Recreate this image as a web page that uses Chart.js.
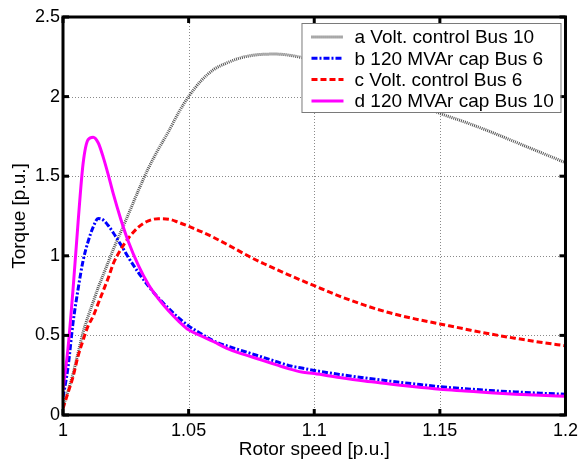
<!DOCTYPE html>
<html>
<head>
<meta charset="utf-8">
<script src="https://cdn.jsdelivr.net/npm/chart.js@4.4.0/dist/chart.umd.min.js"></script>
<style>
  html, body { margin: 0; padding: 0; background: #fff; }
  #wrap { width: 583px; height: 461px; }
</style>
</head>
<body>
<div id="wrap"><canvas id="torqueChart"></canvas></div>
<script>
// rotor speed [p.u.]
const speed = [1.000, 1.002, 1.004, 1.006, 1.008, 1.010, 1.012, 1.014, 1.016, 1.018,
               1.020, 1.023, 1.026, 1.030, 1.034, 1.038, 1.042, 1.046, 1.050, 1.055,
               1.060, 1.065, 1.070, 1.075, 1.080, 1.085, 1.090, 1.095, 1.100, 1.110,
               1.120, 1.130, 1.140, 1.150, 1.160, 1.170, 1.180, 1.190, 1.200];

// torque [p.u.]
const voltCtrlBus10 = [0.05, 0.15, 0.26, 0.39, 0.52, 0.62, 0.71, 0.80, 0.88, 0.96,
                       1.04, 1.15, 1.26, 1.41, 1.55, 1.67, 1.78, 1.90, 2.00, 2.10,
                       2.17, 2.21, 2.24, 2.258, 2.266, 2.267, 2.26, 2.245, 2.225, 2.17,
                       2.11, 2.04, 1.965, 1.895, 1.84, 1.78, 1.715, 1.65, 1.585];
const capBus6 = [0.11, 0.30, 0.58, 0.79, 0.97, 1.09, 1.18, 1.235, 1.225, 1.19,
                 1.145, 1.07, 0.99, 0.895, 0.81, 0.735, 0.67, 0.61, 0.56, 0.51,
                 0.465, 0.435, 0.41, 0.385, 0.36, 0.335, 0.31, 0.295, 0.28, 0.255,
                 0.233, 0.213, 0.195, 0.178, 0.165, 0.154, 0.145, 0.137, 0.130];
const voltCtrlBus6 = [0.04, 0.14, 0.24, 0.37, 0.47, 0.56, 0.62, 0.70, 0.78, 0.86,
                      0.95, 1.04, 1.11, 1.18, 1.22, 1.233, 1.23, 1.21, 1.185, 1.152,
                      1.115, 1.074, 1.031, 0.988, 0.95, 0.914, 0.879, 0.845, 0.812, 0.747,
                      0.69, 0.642, 0.604, 0.572, 0.54, 0.509, 0.482, 0.457, 0.435];
const capBus10 = [0.16, 0.42, 0.79, 1.21, 1.58, 1.73, 1.745, 1.71, 1.62, 1.51,
                  1.39, 1.23, 1.09, 0.94, 0.82, 0.73, 0.655, 0.59, 0.535, 0.497,
                  0.46, 0.42, 0.39, 0.366, 0.34, 0.315, 0.29, 0.27, 0.26, 0.235,
                  0.213, 0.195, 0.177, 0.162, 0.151, 0.140, 0.131, 0.124, 0.118];

const seriesLabels = ['a Volt. control Bus 10', 'b 120 MVAr cap Bus 6',
                      'c Volt. control Bus 6', 'd 120 MVAr cap Bus 10'];
const xTicks = [1, 1.05, 1.1, 1.15, 1.2];
const yTicks = [0, 0.5, 1, 1.5, 2, 2.5];

const FONT = "'Liberation Sans', Arial, sans-serif";

function toPoints(ys) {
    return ys.map((v, i) => ({ x: speed[i], y: v }));
}

function seg(ctx, x1, y1, x2, y2) {
    ctx.beginPath();
    ctx.moveTo(x1, y1);
    ctx.lineTo(x2, y2);
    ctx.stroke();
}

// dotted grid under the curves, box + inward ticks above them
const axesBox = {
    id: 'axesBox',
    beforeDatasetsDraw(chart) {
        const { ctx, chartArea: a, scales: { x, y } } = chart;
        ctx.save();
        ctx.strokeStyle = '#8a8a8a';
        ctx.lineWidth = 1;
        ctx.setLineDash([1, 2]);
        x.ticks.forEach(t => {
            const px = Math.round(x.getPixelForValue(t.value)) + 0.5;
            if (px > a.left + 2 && px < a.right - 2) seg(ctx, px, a.top, px, a.bottom);
        });
        y.ticks.forEach(t => {
            const py = Math.round(y.getPixelForValue(t.value)) + 0.5;
            if (py > a.top + 2 && py < a.bottom - 2) seg(ctx, a.left, py, a.right, py);
        });
        ctx.restore();
    },
    afterDatasetsDraw(chart) {
        const { ctx, chartArea: a, scales: { x, y } } = chart;
        ctx.save();
        ctx.strokeStyle = '#000';
        ctx.lineWidth = 3;
        ctx.setLineDash([]);
        ctx.strokeRect(a.left, a.top, a.right - a.left, a.bottom - a.top);
        const len = 6;
        x.ticks.forEach(t => {
            const px = x.getPixelForValue(t.value);
            seg(ctx, px, a.bottom, px, a.bottom - len);
            seg(ctx, px, a.top, px, a.top + len);
        });
        y.ticks.forEach(t => {
            const py = y.getPixelForValue(t.value);
            seg(ctx, a.left, py, a.left + len, py);
            seg(ctx, a.right, py, a.right - len, py);
        });
        ctx.restore();
    },
    afterDraw(chart) {
        // legend box in the upper right of the axes
        const { ctx, chartArea: a } = chart;
        const w = 259, h = 89;
        const left = a.right - 5 - w, top = a.top + 6;
        ctx.save();
        ctx.fillStyle = '#fff';
        ctx.fillRect(left, top, w, h);
        ctx.strokeStyle = '#7a7a7a';
        ctx.lineWidth = 1;
        ctx.strokeRect(left + 0.5, top + 0.5, w, h);
        ctx.font = '19px ' + FONT;
        ctx.textBaseline = 'middle';
        chart.data.datasets.forEach((ds, i) => {
            const cy = top + 14 + i * 21.3;
            ctx.strokeStyle = ds.borderColor;
            ctx.lineWidth = ds.borderWidth;
            ctx.setLineDash(ds.borderDash || []);
            seg(ctx, left + 10, cy, left + 42, cy);
            ctx.setLineDash([]);
            ctx.fillStyle = '#000';
            ctx.fillText(ds.label, left + 53, cy + 1);
        });
        ctx.restore();
    }
};

new Chart(document.getElementById('torqueChart'), {
    type: 'line',
    data: {
        datasets: [
            { label: seriesLabels[0], data: toPoints(voltCtrlBus10), borderColor: '#555555',
              borderWidth: 3, borderDash: [1, 1], order: 3 },
            { label: seriesLabels[1], data: toPoints(capBus6), borderColor: '#0000ff',
              borderWidth: 3, borderDash: [6, 2, 2, 2], order: 2 },
            { label: seriesLabels[2], data: toPoints(voltCtrlBus6), borderColor: '#ff0000',
              borderWidth: 3, borderDash: [6, 3], order: 1 },
            { label: seriesLabels[3], data: toPoints(capBus10), borderColor: '#ff00ff',
              borderWidth: 3, order: 0 }
        ]
    },
    options: {
        responsive: true,
        maintainAspectRatio: false,
        animation: false,
        devicePixelRatio: 1,
        layout: { padding: { left: 0, right: 14, top: 17, bottom: 0 } },
        elements: {
            point: { radius: 0 },
            line: { cubicInterpolationMode: 'monotone', fill: false }
        },
        plugins: { legend: { display: false }, tooltip: { enabled: false } },
        scales: {
            x: {
                type: 'linear', min: 1, max: 1.2,
                afterBuildTicks: s => { s.ticks = xTicks.map(v => ({ value: v })); },
                afterFit: s => { s.height = 46; },
                grid: { display: false, drawTicks: false },
                border: { display: false },
                ticks: { color: '#000', font: { family: FONT, size: 18 }, padding: 5,
                         maxRotation: 0, callback: v => String(v) },
                title: { display: true, text: 'Rotor speed [p.u.]', color: '#000',
                         font: { family: FONT, size: 19 }, padding: { top: 0, bottom: 0 } }
            },
            y: {
                min: 0, max: 2.5,
                afterBuildTicks: s => { s.ticks = yTicks.map(v => ({ value: v })); },
                afterFit: s => { s.width = 63; },
                grid: { display: false, drawTicks: false },
                border: { display: false },
                ticks: { color: '#000', font: { family: FONT, size: 18 }, padding: 3,
                         callback: v => String(v) },
                title: { display: true, text: 'Torque [p.u.]', color: '#000',
                         font: { family: FONT, size: 19 }, padding: { top: 8, bottom: 0 } }
            }
        }
    },
    plugins: [axesBox]
});
</script>
</body>
</html>
